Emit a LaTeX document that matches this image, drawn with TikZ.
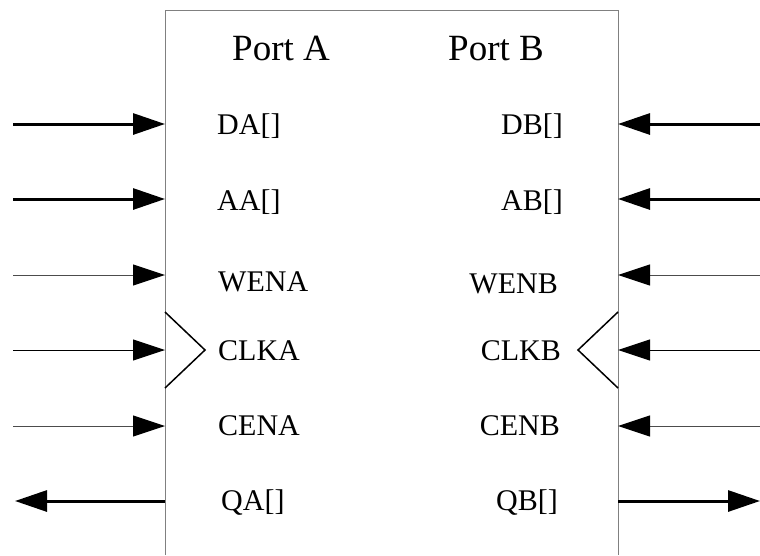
\documentclass[tikz,border=0pt]{standalone}
\usepackage{fontspec}
\setmainfont{Liberation Serif}
\usetikzlibrary{arrows.meta}

\tikzset{
  bus/.style={line width=3pt, -{Triangle[length=32pt,width=21pt]}},
  ctl/.style={line width=1pt, black!70, -{Triangle[length=32pt,width=21pt,color=black]}},
  clk/.style={line width=1pt, black, -{Triangle[length=32pt,width=21pt]}},
  pin/.style={inner sep=0pt, font=\fontsize{30}{36}\selectfont},
  lpin/.style={pin, anchor=base west},
  rpin/.style={pin, anchor=base east},
  title/.style={inner sep=0pt, anchor=base west, font=\fontsize{37}{44}\selectfont},
  frame/.style={line width=1pt, black!50},
  edge/.style={line width=1.5pt, black, line join=miter}
}

\begin{document}
\begin{tikzpicture}[x=1pt,y=-1pt]
\useasboundingbox (0,0) rectangle (760,555);

% block outline, open at the bottom
\draw[frame] (165,555) -- (165,10) -- (618,10) -- (618,555);

% port headings
\node[title] (ta) at (232,60.7) {Port A};
\node[title] (tb) at (448,60.7) {Port B};

% pin points on the block edges and the far ends of the wires
\foreach \n/\y in {DA/124,AA/199,WENA/275,CLKA/350,CENA/426,QA/501}{
  \coordinate (p\n) at (165,\y);
  \coordinate (s\n) at (13,\y);
}
\foreach \n/\y in {DB/124,AB/199,WENB/275,CLKB/350,CENB/426}{
  \coordinate (p\n) at (618,\y);
  \coordinate (s\n) at (760,\y);
}
\coordinate (pQB) at (618,501);
\coordinate (sQB) at (760,501);
\coordinate (sQA) at (15,501);

% port A wires
\draw[bus] (sDA) -- (pDA);
\draw[bus] (sAA) -- (pAA);
\draw[ctl] (sWENA) -- (pWENA);
\draw[clk] (sCLKA) -- (pCLKA);
\draw[ctl] (sCENA) -- (pCENA);
\draw[bus] (pQA) -- (sQA);

% port B wires
\draw[bus] (sDB) -- (pDB);
\draw[bus] (sAB) -- (pAB);
\draw[ctl] (sWENB) -- (pWENB);
\draw[clk] (sCLKB) -- (pCLKB);
\draw[ctl] (sCENB) -- (pCENB);
\draw[bus] (pQB) -- (sQB);

% clock input markers
\draw[edge] (165,312) -- (205,350) -- (165,388);
\draw[edge] (618,312) -- (578,350) -- (618,388);

% pin names, port A
\node[lpin] (lDA) at (217,134.3) {DA[]};
\node[lpin] (lAA) at (217,210) {AA[]};
\node[lpin] (lWENA) at (218,291.7) {WENA};
\node[lpin] (lCLKA) at (218,360) {CLKA};
\node[lpin] (lCENA) at (218,435.7) {CENA};
\node[lpin] (lQA) at (221,510) {QA[]};

% pin names, port B
\node[rpin] (lDB) at (563,134.3) {DB[]};
\node[rpin] (lAB) at (563,210) {AB[]};
\node[rpin] (lWENB) at (558,293) {WENB};
\node[rpin] (lCLKB) at (561,360) {CLKB};
\node[rpin] (lCENB) at (560,435.7) {CENB};
\node[rpin] (lQB) at (558,510) {QB[]};
\end{tikzpicture}
\end{document}
